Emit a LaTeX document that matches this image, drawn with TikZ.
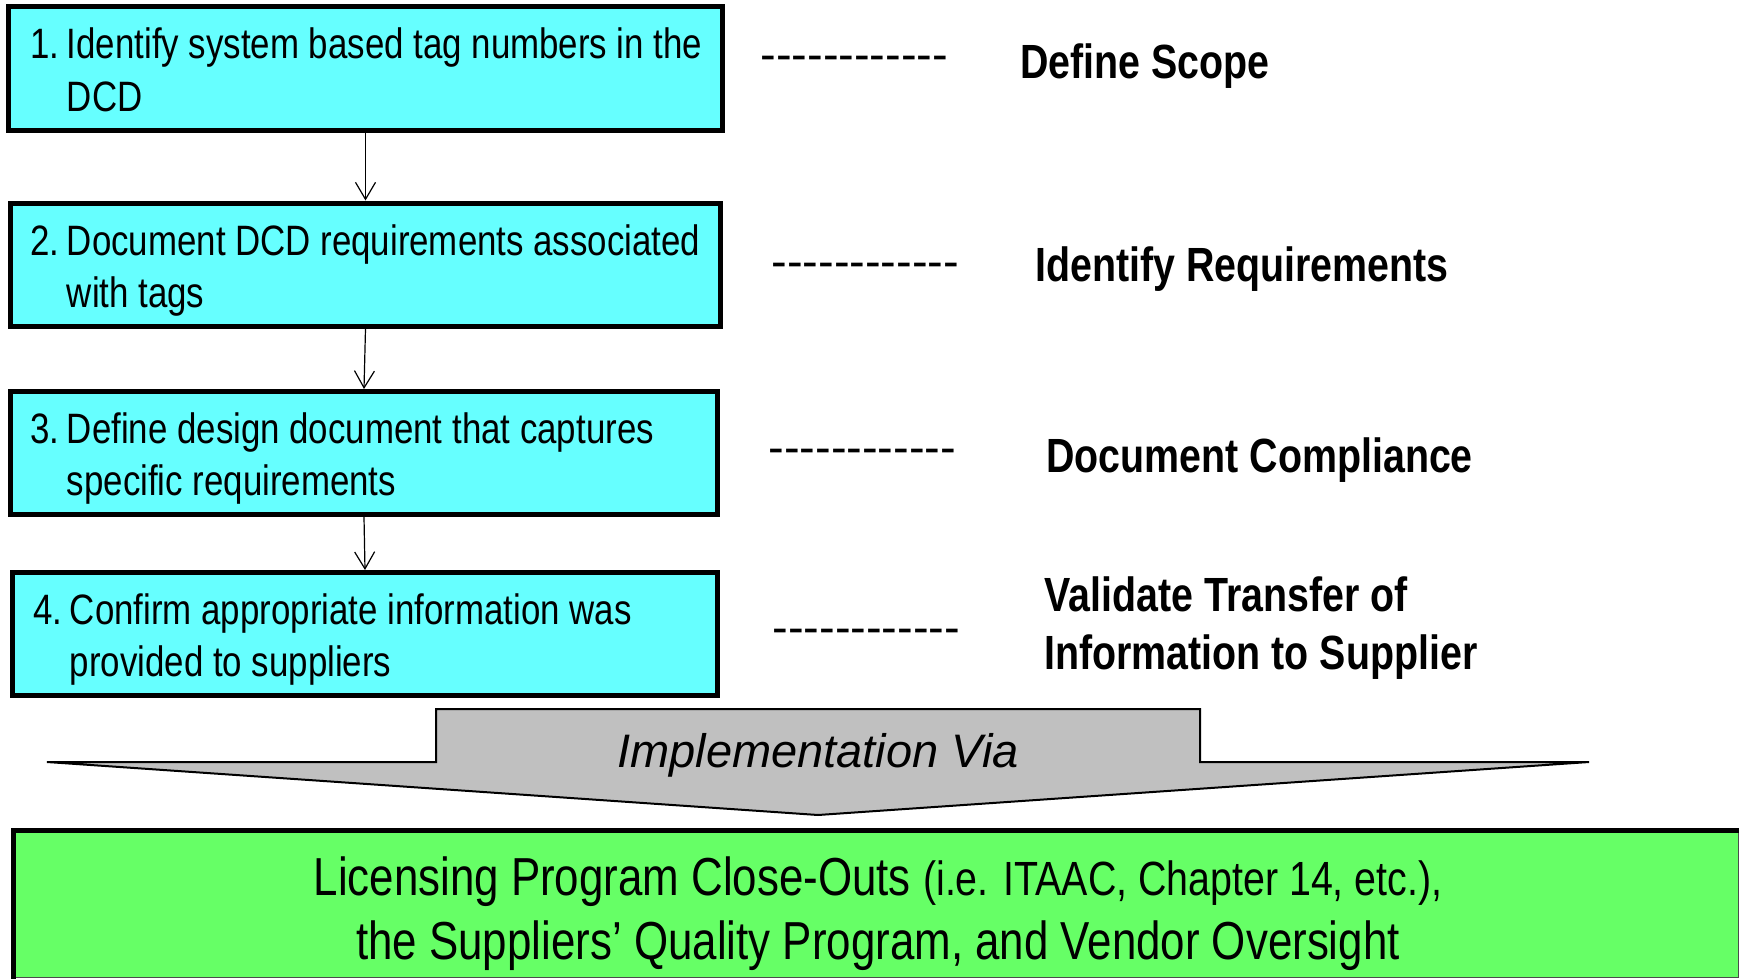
\documentclass[tikz,border=0pt]{standalone}
\usepackage{fontspec}
\setmainfont{Liberation Sans}[FakeStretch=0.82]
\newfontfamily\widefont{Liberation Sans}
\usetikzlibrary{arrows.meta}
\definecolor{stepcyan}{HTML}{66FFFF}
\definecolor{closegreen}{HTML}{66FF66}
\definecolor{viagray}{HTML}{C0C0C0}
\newcommand{\stepitem}[3]{\makebox[18.25pt][l]{#1}\parbox[t]{330pt}{#2\\#3}}
\newcommand{\dashstring}{\mbox{-}\mbox{-}\mbox{-}\mbox{-}\mbox{-}\mbox{-}\mbox{-}\mbox{-}\mbox{-}\mbox{-}\mbox{-}\mbox{-}}
\begin{document}
\begin{tikzpicture}[x=0.5pt,y=-0.5pt,
  stepbox/.style={draw=black, line width=2.5pt, fill=stepcyan, inner sep=0pt},
  steptext/.style={anchor=base west, inner sep=0pt, font=\fontsize{21.25pt}{26.25pt}\selectfont},
  phase/.style={anchor=base west, inner sep=0pt, font=\fontsize{24pt}{29pt}\selectfont\bfseries},
  dashrule/.style={anchor=base west, inner sep=0pt, font=\widefont\fontsize{23.5pt}{28pt}\selectfont},
  conn/.style={-{Straight Barb[length=8.5pt,width=10pt]}, line width=0.6pt},
  closebox/.style={draw=black!70, line width=0.5pt, fill=closegreen, inner sep=0pt}]
\useasboundingbox (0,0) rectangle (1739,979);
\clip (0,0) rectangle (1739,979);

% process steps
\node[stepbox, minimum width=357pt, minimum height=62pt] (b1) at (365.5,69) {};
\node[stepbox, minimum width=355pt, minimum height=61.5pt] (b2) at (365.5,264.5) {};
\node[stepbox, minimum width=353.5pt, minimum height=61.5pt] (b3) at (364,453) {};
\node[stepbox, minimum width=352.5pt, minimum height=61.5pt] (b4) at (365,634) {};

\node[steptext] (t1) at (30,59) {\stepitem{1.}{Identify system based tag numbers in the}{DCD}};
\node[steptext] (t2) at (30,255) {\stepitem{2.}{Document DCD requirements associated}{with tags}};
\node[steptext] (t3) at (30,443) {\stepitem{3.}{Define design document that captures}{specific requirements}};
\node[steptext] (t4) at (33,624) {\stepitem{4.}{Confirm appropriate information was}{provided to suppliers}};

\draw[conn] (b1.south) -- (b2.north);
\draw[conn] (b2.south) -- (b3.north);
\draw[conn] (b3.south) -- (b4.north);

% dashed leaders and phase names
\node[dashrule] (d1) at (760,71) {\dashstring};
\node[dashrule] (d2) at (771,277) {\dashstring};
\node[dashrule] (d3) at (768,463) {\dashstring};
\node[dashrule] (d4) at (772,643) {\dashstring};

\node[phase] (p1) at (1020,79) {Define Scope};
\node[phase] (p2) at (1035,281) {Identify Requirements};
\node[phase] (p3) at (1046,472) {Document Compliance};
\node[phase] (p4) at (1044,611) {\parbox[t]{300pt}{Validate Transfer of\\Information to Supplier}};

% implementation arrow
\draw[fill=viagray, line width=1pt, line join=miter]
  (436,709) -- (1200,709) -- (1200,762) -- (1589,762) -- (818,815)
  -- (47,762) -- (436,762) -- cycle;
\node[anchor=base, inner sep=0pt, font=\widefont\itshape\fontsize{23.5pt}{28pt}\selectfont] (via) at (818,767) {Implementation Via};

% close-out box
\node[closebox, minimum width=862pt, minimum height=73pt] (close) at (876,904) {};
\draw[line width=2.5pt] ([yshift=-10pt]close.south west) -- (close.north west) -- ([xshift=10pt]close.north east);
\node[anchor=base, inner sep=0pt, font=\fontsize{26.75pt}{32pt}\selectfont] (closetext) at (878,895)
  {\parbox[t]{640pt}{\centering Licensing Program Close-Outs {\fontsize{24pt}{32pt}\selectfont(i.e. ITAAC, Chapter 14, etc.),}\\the Suppliers’ Quality Program, and Vendor Oversight}};
\end{tikzpicture}
\end{document}
